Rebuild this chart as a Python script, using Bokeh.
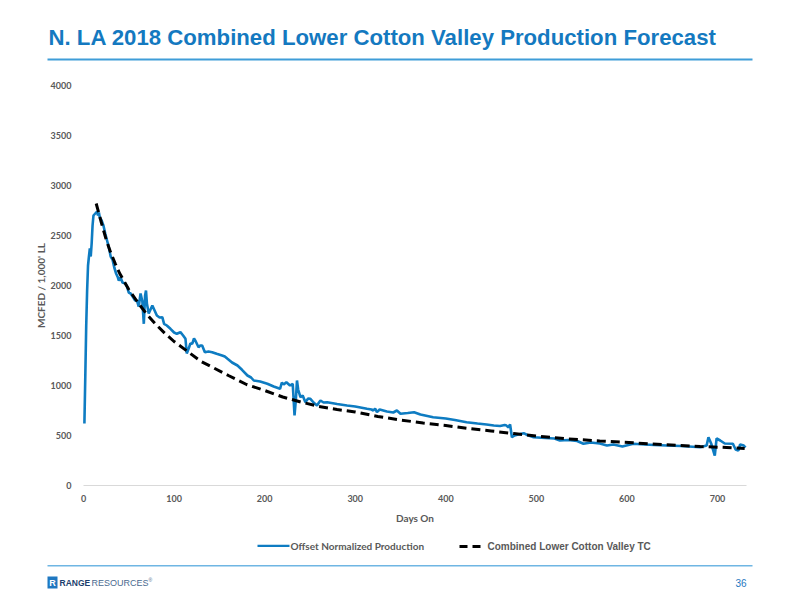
from bokeh.plotting import figure
from bokeh.models import Range1d, SingleIntervalTicker, Label, BoxAnnotation
from bokeh.embed import file_html
from bokeh.resources import INLINE

# ---- data ----
prod_days = [1, 2, 3, 4, 5, 6, 7, 8, 9, 10, 11, 13, 15, 16, 17, 18, 20, 22, 24, 26, 28, 30,
             32, 34, 36, 38, 39, 41, 43, 46, 48, 50, 52, 55, 57, 59, 61, 63, 65, 66.6, 68, 69,
             70, 72, 74, 76, 78, 81, 84, 87, 89, 92, 96, 100, 103, 107, 110, 112.6, 114, 116,
             118, 120, 122, 124, 127, 129, 131, 134, 138, 142, 147, 153, 156, 159, 164, 170,
             175, 181, 185, 187, 188, 195, 203, 210, 217, 219, 221, 224, 228, 231, 233, 234.5,
             235.7, 237, 239.5, 242, 245, 248, 250.5, 254, 257.8, 260, 261.6, 265, 269, 280,
             291, 300, 313, 318, 320, 322, 324, 327, 335, 342, 346, 350, 358, 365, 372, 386,
             400, 410, 423, 435, 445, 453, 460, 465, 467, 469, 471, 473, 476, 480, 486, 490,
             497, 510, 520, 526, 535, 545, 552, 560, 570, 578, 585, 595, 607, 620, 630, 644,
             660, 681, 688, 690, 693, 697, 699, 703, 708, 717, 720, 723, 725, 729, 731]
prod_vals = [620, 1100, 1600, 1950, 2200, 2290, 2370, 2290, 2420, 2600, 2700, 2720, 2740, 2700,
             2730, 2680, 2650, 2600, 2520, 2450, 2380, 2290, 2260, 2180, 2120, 2080, 2050, 2080,
             2030, 2020, 1990, 1930, 1920, 1880, 1850, 1850, 1790, 1920, 1840, 1617, 1900, 1950,
             1820, 1720, 1760, 1800, 1760, 1700, 1680, 1683, 1617, 1600, 1567, 1530, 1517, 1533,
             1500, 1467, 1320, 1367, 1420, 1417, 1470, 1440, 1383, 1400, 1400, 1333, 1340, 1333,
             1317, 1300, 1290, 1267, 1230, 1200, 1157, 1100, 1080, 1060, 1050, 1040, 1017, 990,
             967, 1030, 1010, 1033, 1000, 1017, 700, 860, 1050, 960, 883, 900, 833, 870, 867,
             830, 800, 830, 850, 830, 833, 815, 800, 790, 767, 760, 750, 770, 733, 760, 740, 730,
             750, 717, 725, 733, 710, 683, 670, 655, 633, 620, 610, 600, 595, 605, 600, 580, 610,
             483, 500, 510, 523, 505, 483, 475, 470, 450, 455, 445, 417, 430, 420, 400, 410, 390,
             417, 410, 405, 400, 395, 383, 400, 483, 420, 300, 470, 450, 420, 417, 360, 350, 410,
             400, 380]

tc_days = [14, 20, 25, 30, 35, 40, 50, 60, 70, 80, 90, 100, 115, 130, 145, 160, 180, 200, 220,
           240, 260, 280, 300, 325, 350, 375, 400, 425, 450, 475, 500, 534, 570, 607, 640, 681,
           710, 730]
tc_vals = [2820, 2620, 2460, 2330, 2220, 2120, 1960, 1830, 1710, 1610, 1520, 1440, 1340, 1240,
           1170, 1100, 1010, 950, 885, 835, 790, 760, 735, 690, 655, 625, 600, 570, 545, 520,
           495, 467, 445, 427, 408, 390, 380, 370]

x_max = 732
y_max = 4000
title_text = "N. LA 2018 Combined Lower Cotton Valley Production Forecast"
x_label = "Days On"
y_label = "MCFED / 1,000' LL"
legend_prod = "Offset Normalized Production"
legend_tc = "Combined Lower Cotton Valley TC"
page_no = "36"

GRAY = "#595959"
BLUE = "#0e7cc2"
W, H = 800, 600
# page pixels of the plot area: day 0 / day 700, value 0 / value 4000
X0, X700 = 83, 717
Y0, Y4000 = 485, 85
KX = (X700 - X0) / 700.0
KY = (Y0 - Y4000) / float(y_max)

# the frame covers the whole canvas; the axes sit at fixed data locations inside it
p = figure(width=W, height=H, output_backend="svg", toolbar_location=None,
           x_range=Range1d(-X0 / KX, (W - X0) / KX),
           y_range=Range1d(-(H - Y0) / KY, Y0 / KY),
           min_border=0)
p.outline_line_color = None
p.xgrid.grid_line_color = None
p.ygrid.grid_line_color = None
p.background_fill_color = "white"
p.border_fill_color = "white"

p.xaxis.ticker = SingleIntervalTicker(interval=100)
p.yaxis.ticker = SingleIntervalTicker(interval=500)
for ax in (p.xaxis, p.yaxis):
    ax.fixed_location = 0
    ax.major_tick_line_color = None
    ax.minor_tick_line_color = None
    ax.major_label_text_font = "Lato"
    ax.major_label_text_font_style = "bold"
    ax.major_label_text_font_size = "9px"
    ax.major_label_text_color = GRAY
    ax.axis_label_text_font = "Lato"
    ax.axis_label_text_font_style = "bold"
    ax.axis_label_text_font_size = "10px"
    ax.axis_label_text_color = GRAY
p.xaxis.bounds = (0, x_max)
p.yaxis.bounds = (0, y_max)
p.yaxis.axis_line_color = None
p.xaxis.axis_line_color = "#d9d9d9"
p.xaxis.axis_line_width = 1.2
p.yaxis.major_label_standoff = 6
p.xaxis.major_label_standoff = 3
p.xaxis.axis_label = x_label
p.yaxis.axis_label = y_label
p.xaxis.axis_label_standoff = 7
p.yaxis.axis_label_standoff = 1

p.line(prod_days, prod_vals, line_color=BLUE, line_width=2.6)
p.line(tc_days, tc_vals, line_color="black", line_width=3, line_dash="9 5")


def box(x0, x1, y0, y1, color):
    p.add_layout(BoxAnnotation(left=x0, right=x1, top=H - y0, bottom=H - y1,
                               left_units="screen", right_units="screen",
                               top_units="screen", bottom_units="screen",
                               fill_color=color, fill_alpha=1.0, line_color=None))


def label(X, Y, text, size, color, font="Liberation Sans", style="normal", align="left"):
    p.add_layout(Label(x=X, y=H - Y, x_units="screen", y_units="screen", text=text,
                       text_font=font, text_font_style=style, text_font_size=size,
                       text_color=color, text_align=align, text_baseline="middle"))


# header
label(48, 37, title_text, "22.2px", "#1479c0", style="bold")
box(47, 752, 58, 60, "#3f9dd8")

# legend
box(257, 289, 544.2, 546.6, BLUE)
label(290, 545, legend_prod, "10px", GRAY, font="Lato", style="bold")
box(459, 467, 544.5, 547.5, "black")
box(472, 480, 544.5, 547.5, "black")
label(487, 546, legend_tc, "10px", GRAY, style="bold")

# footer
box(47, 752, 564.5, 566, "#6fb6e3")
box(47, 57, 576, 588, "#1f78c1")
label(52, 582.5, "R", "9px", "white", style="bold", align="center")
label(59, 582.5, "RANGE", "8.5px", "#1d3f6e", style="bold")
label(91, 582.5, "RESOURCES", "9px", "#4a6a8f")
label(148, 579, "\u00ae", "5px", "#4a6a8f")
label(746, 582.5, page_no, "10px", "#1f78c1", align="right")

open("out.html", "w").write(file_html(p, INLINE))
